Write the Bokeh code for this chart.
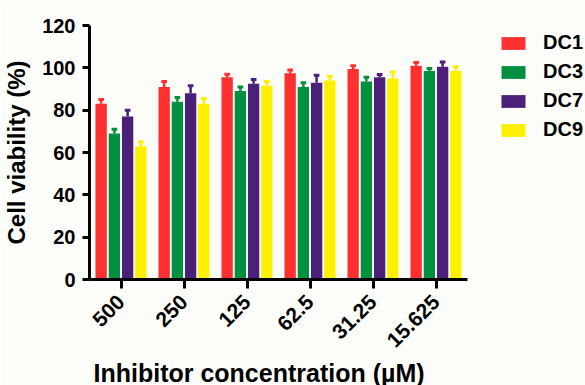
import math
from bokeh.plotting import figure
from bokeh.models import (ColumnDataSource, FactorRange, Range1d, FixedTicker,
                          Legend, LegendItem, Title)
from bokeh.transform import dodge
from bokeh.embed import file_html
from bokeh.resources import INLINE

# ---- data ----
concentrations = ["500", "250", "125", "62.5", "31.25", "15.625"]
series_names = ["DC1", "DC3", "DC7", "DC9"]
dc1 = [83, 91, 95.5, 97.5, 99.5, 101]
dc1_err = [2, 2.5, 1.5, 1.5, 1.5, 1.5]
dc3 = [69, 84, 89, 91, 93.5, 98.5]
dc3_err = [2, 2, 2, 2, 2, 1.2]
dc7 = [77, 88, 92.5, 93, 95.5, 100.5]
dc7_err = [3, 3.5, 2, 3.5, 1.3, 2.3]
dc9 = [63, 83, 91.5, 94, 95, 98.5]
dc9_err = [2, 2.5, 2, 2, 3, 2]
y_ticks = [0, 20, 40, 60, 80, 100, 120]

values = [dc1, dc3, dc7, dc9]
errors = [dc1_err, dc3_err, dc7_err, dc9_err]
colors = ["#FF3030", "#009040", "#4B2078", "#FFF000"]
offsets = [-0.315, -0.105, 0.105, 0.315]

FONT = "Liberation Sans"
BG = "#FDFDF9"

p = figure(x_range=FactorRange(*concentrations, range_padding=0),
           y_range=Range1d(0, 120),
           frame_width=378, frame_height=254,
           min_border_left=89, min_border_right=118,
           min_border_top=25, min_border_bottom=100,
           output_backend="svg", toolbar_location=None,
           background_fill_color=BG, border_fill_color=BG)
p.outline_line_color = None
p.xgrid.visible = False
p.ygrid.visible = False

items = []
for name, vals, errs, col, off in zip(series_names, values, errors, colors, offsets):
    top = [v + e for v, e in zip(vals, errs)]
    src = ColumnDataSource(dict(cat=concentrations, val=vals, top=top))
    r = p.vbar(x=dodge("cat", off, range=p.x_range), top="val", bottom=0,
               width=0.18, source=src, fill_color=col, line_color=None)
    p.segment(x0=dodge("cat", off, range=p.x_range), y0="val",
              x1=dodge("cat", off, range=p.x_range), y1="top",
              source=src, line_color=col, line_width=2.5)
    p.segment(x0=dodge("cat", off - 0.045, range=p.x_range), y0="top",
              x1=dodge("cat", off + 0.045, range=p.x_range), y1="top",
              source=src, line_color=col, line_width=3)
    items.append(LegendItem(label=name, renderers=[r]))

legend = Legend(items=items, location=(31, 138), padding=0, margin=0,
                glyph_width=30, glyph_height=16, label_height=20,
                label_standoff=15, spacing=6,
                label_text_font=FONT, label_text_font_style="bold",
                label_text_font_size="20px", label_text_color="black",
                border_line_color=None, background_fill_alpha=0)
p.add_layout(legend, "right")

# y axis
p.yaxis.ticker = FixedTicker(ticks=y_ticks)
p.yaxis.minor_tick_line_color = None
p.yaxis.axis_line_width = 3
p.yaxis.major_tick_line_width = 3
p.yaxis.major_tick_out = 7
p.yaxis.major_tick_in = 0
p.yaxis.major_label_standoff = 7
p.yaxis.major_label_text_font = FONT
p.yaxis.major_label_text_font_style = "bold"
p.yaxis.major_label_text_font_size = "20px"
p.yaxis.major_label_text_color = "black"
p.yaxis.axis_label = "Cell viability (%)"
p.yaxis.axis_label_text_font = FONT
p.yaxis.axis_label_text_font_style = "bold"
p.yaxis.axis_label_text_font_size = "24px"
p.yaxis.axis_label_text_color = "black"
p.yaxis.axis_label_standoff = 9

# x axis
p.xaxis.axis_line_width = 3
p.xaxis.major_tick_line_width = 3
p.xaxis.major_tick_out = 9
p.xaxis.major_tick_in = 0
p.xaxis.major_label_orientation = math.pi / 4
p.xaxis.major_label_standoff = 10
p.xaxis.major_label_text_font = FONT
p.xaxis.major_label_text_font_style = "bold"
p.xaxis.major_label_text_font_size = "21px"
p.xaxis.major_label_text_color = "black"

xlabel = Title(text="Inhibitor concentration (µM)", align="left", offset=4,
               text_font=FONT, text_font_style="bold", text_font_size="25px",
               text_color="black", standoff=0)
p.add_layout(xlabel, "below")

open("out.html", "w").write(file_html(p, INLINE))
